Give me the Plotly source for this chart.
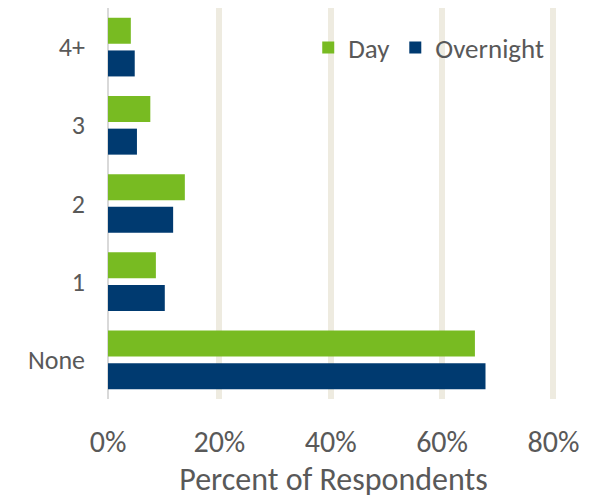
import plotly.graph_objects as go

categories = ["None", "1", "2", "3", "4+"]
day_values = [65.9, 8.6, 13.8, 7.6, 4.1]
overnight_values = [67.8, 10.2, 11.7, 5.2, 4.8]
x_tick_vals = [0, 20, 40, 60, 80]
x_tick_text = ["0%", "20%", "40%", "60%", "80%"]

GREEN = "#78BB22"
NAVY = "#003A70"
TEXT = "#595959"
FONT = "Calibri, Carlito, Lato, sans-serif"

fig = go.Figure()
fig.add_trace(go.Bar(name="Overnight", y=categories, x=overnight_values, orientation="h",
                     marker=dict(color=NAVY, line=dict(width=0))))
fig.add_trace(go.Bar(name="Day", y=categories, x=day_values, orientation="h",
                     marker=dict(color=GREEN, line=dict(width=0))))

fig.update_layout(
    width=591, height=495,
    margin=dict(l=100, r=40.4, t=0, b=104, autoexpand=False),
    paper_bgcolor="white", plot_bgcolor="white",
    barmode="group", bargap=0.164, bargroupgap=0.205,
    font=dict(family=FONT, color=TEXT),
    showlegend=True,
    legend=dict(orientation="h", x=0.444, xanchor="left", y=0.898, yanchor="middle",
                traceorder="reversed", font=dict(size=27, color=TEXT),
                bgcolor="rgba(0,0,0,0)", itemwidth=30),
    xaxis=dict(range=[0, 81], tickvals=x_tick_vals, ticktext=x_tick_text,
               showgrid=True, gridcolor="#EEEBE0", gridwidth=6,
               zeroline=True, zerolinecolor="#D9D9D9", zerolinewidth=2,
               showline=False, ticks="", ticklabelstandoff=22, automargin=False,
               tickfont=dict(size=30, color=TEXT),
               title=dict(text="Percent of Respondents", font=dict(size=32, color=TEXT), standoff=4)),
    yaxis=dict(showgrid=False, zeroline=False, showline=False, ticks="", automargin=False,
               ticklabelstandoff=22, tickfont=dict(size=26, color=TEXT)),
)

fig.write_html("out.html")
